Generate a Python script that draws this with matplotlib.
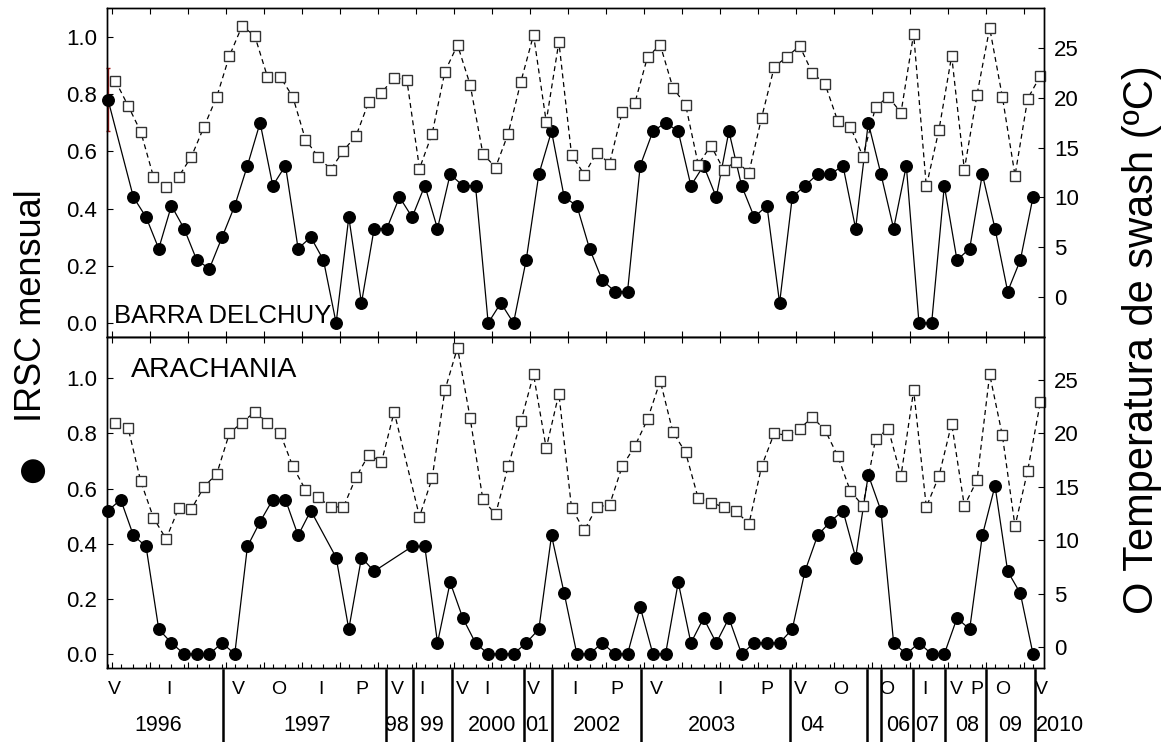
import numpy as np
import matplotlib.pyplot as plt
from matplotlib import transforms
from matplotlib.ticker import FormatStrFormatter, MultipleLocator

plt.rcParams['font.family'] = ['Liberation Sans', 'DejaVu Sans']

nan = np.nan

# --- data: one value per sampling campaign (x axis = campaign number) ---
barra_irsc = [0.78, nan, 0.44, 0.37, 0.26, 0.41, 0.33, 0.22, 0.19, 0.30,
              0.41, 0.55, 0.70, 0.48, 0.55, 0.26, 0.30, 0.22, 0.00, 0.37,
              0.07, 0.33, 0.33, 0.44, 0.37, 0.48, 0.33, 0.52, 0.48, 0.48,
              0.00, 0.07, 0.00, 0.22, 0.52, 0.67, 0.44, 0.41, 0.26, 0.15,
              0.11, 0.11, 0.55, 0.67, 0.70, 0.67, 0.48, 0.55, 0.44, 0.67,
              0.48, 0.37, 0.41, 0.07, 0.44, 0.48, 0.52, 0.52, 0.55, 0.33,
              0.70, 0.52, 0.33, 0.55, 0.00, 0.00, 0.48, 0.22, 0.26, 0.52,
              0.33, 0.11, 0.22, 0.44]
barra_err = 0.11   # error bar on the first campaign

barra_temp = [21.7, 19.2, 16.6, 12.1, 11.0, 12.1, 14.1, 17.1, 20.1, 24.2,
              27.2, 26.2, 22.1, 22.1, 20.1, 15.8, 14.1, 12.8, 14.7, 16.2,
              19.6, 20.5, 22.0, 21.8, 12.9, 16.4, 22.6, 25.3, 21.3, 14.4,
              13.0, 16.4, 21.6, 26.3, 17.6, 25.6, 14.3, 12.3, 14.5, 13.4,
              18.6, 19.5, 24.1, 25.3, 21.0, 19.3, 13.3, 15.2, 12.8, 13.6,
              12.5, 18.0, 23.1, 24.1, 25.2, 22.5, 21.4, 17.7, 17.1, 14.1,
              19.1, 20.1, 18.5, 26.4, 11.1, 16.8, 24.2, 12.8, 20.3, 27.0,
              20.1, 12.2, 19.9, 22.2]

arach_irsc = [0.52, 0.56, 0.43, 0.39, 0.09, 0.04, 0.00, 0.00, 0.00, 0.04,
              0.00, 0.39, 0.48, 0.56, 0.56, 0.43, 0.52, nan, 0.35, 0.09,
              0.35, 0.30, nan, nan, 0.39, 0.39, 0.04, 0.26, 0.13, 0.04,
              0.00, 0.00, 0.00, 0.04, 0.09, 0.43, 0.22, 0.00, 0.00, 0.04,
              0.00, 0.00, 0.17, 0.00, 0.00, 0.26, 0.04, 0.13, 0.04, 0.13,
              0.00, 0.04, 0.04, 0.04, 0.09, 0.30, 0.43, 0.48, 0.52, 0.35,
              0.65, 0.52, 0.04, 0.00, 0.04, 0.00, 0.00, 0.13, 0.09, 0.43,
              0.61, 0.30, 0.22, 0.00]

arach_temp = [21.0, 20.5, 15.5, 12.1, 10.1, 13.0, 12.9, 15.0, 16.2, 20.0,
              21.0, 22.0, 21.0, 20.0, 16.9, 14.7, 14.0, 13.1, 13.1, 15.9,
              18.0, 17.3, 22.0, nan, 12.2, 15.8, 24.0, 28.0, 21.4, 13.8,
              12.4, 16.9, 21.1, 25.5, 18.6, 23.7, 13.0, 10.9, 13.1, 13.3,
              16.9, 18.8, 21.3, 24.9, 20.1, 18.2, 13.9, 13.5, 13.1, 12.7,
              11.5, 16.9, 20.0, 19.8, 20.4, 21.5, 20.3, 17.9, 14.6, 13.2,
              19.5, 20.4, 16.0, 24.0, 13.1, 16.0, 20.9, 13.2, 15.6, 25.5,
              19.8, 11.3, 16.5, 22.9]

# season letters and years written under the x axis
season_labels = ['V', 'I', 'V', 'O', 'I', 'P', 'V', 'I', 'V', 'I', 'V', 'I',
                 'P', 'V', 'I', 'P', 'V', 'O', 'O', 'I', 'V', 'P', 'O', 'V']
season_pos = [0.47, 4.81, 10.26, 13.5, 16.81, 20.05, 22.81, 24.78, 27.94, 29.91,
              33.54, 36.86, 40.18, 43.25, 48.3, 52.01, 54.62, 57.85, 61.48,
              64.48, 66.93, 68.59, 70.64, 73.64]
year_labels = ['1996', '1997', '98', '99', '2000', '01', '2002', '2003', '04',
               '06', '07', '08', '09', '2010']
year_pos = [3.95, 15.71, 22.81, 25.57, 30.31, 33.86, 38.59, 47.67, 55.56,
            62.35, 64.64, 67.8, 71.19, 75.14]
year_breaks = [9.08, 21.94, 24.07, 27.15, 32.83, 35.04, 42.07, 53.83, 59.91,
               61.01, 63.54, 66.06, 69.3, 73.16]

n_camp = len(barra_irsc)
idx = np.arange(n_camp)
temp_shift = 0.58   # temperature measured half a step later

fig = plt.figure(figsize=(11.66, 7.42), dpi=100)
ax1 = fig.add_axes([0.0918, 0.5458, 0.8036, 0.4434])
ax2 = fig.add_axes([0.0918, 0.0997, 0.8036, 0.4461], sharex=ax1)


def draw_panel(ax, irsc, temp, ylim_l, ylim_r):
    irsc = np.asarray(irsc, float)
    temp = np.asarray(temp, float)
    m = ~np.isnan(irsc)
    ax.plot(idx[m], irsc[m], '-o', color='black', lw=0.9, ms=8.3,
            clip_on=False, zorder=3)
    ax.set_ylim(*ylim_l)
    ax.set_yticks(np.arange(0, 1.01, 0.2))
    ax.yaxis.set_major_formatter(FormatStrFormatter('%.1f'))

    axr = ax.twinx()
    mt = ~np.isnan(temp)
    axr.plot(idx[mt] + temp_shift, temp[mt], color='black', ls=(0, (4, 3)),
             lw=0.9, marker='s', ms=7.6, mfc='white', mec='#333333', mew=1.0,
             clip_on=False)
    axr.set_ylim(*ylim_r)
    axr.set_yticks([0, 5, 10, 15, 20, 25])

    for a in (ax, axr):
        for sp in a.spines.values():
            sp.set_linewidth(1.0)
        a.tick_params(direction='in', length=4, width=0.8, labelsize=16, pad=7)
        a.tick_params(axis='x', top=True, bottom=True, labelbottom=False)
    ax.tick_params(axis='y', right=False)
    axr.tick_params(axis='y', left=False)
    return axr


ax1r = draw_panel(ax1, barra_irsc, barra_temp, (-0.049, 1.101), (-4.0, 29.0))
ax2r = draw_panel(ax2, arach_irsc, arach_temp, (-0.051, 1.15), (-1.97, 29.0))

ax1.errorbar(idx[0], barra_irsc[0], yerr=barra_err, fmt='none',
             ecolor='#a01818', elinewidth=1.0, capsize=1.5, clip_on=False)

ax1.set_xlim(-0.08, 73.87)
ax1.set_xticks(np.arange(0.3, 74, 3))
ax2.xaxis.set_minor_locator(MultipleLocator(1))
ax2.tick_params(axis='x', which='minor', direction='in', length=3, width=0.8,
                top=False, bottom=True)

ax1.text(0.0075, 0.0435, 'BARRA DELCHUY', transform=ax1.transAxes,
         fontsize=18.5, va='baseline', ha='left')
ax2.text(0.0253, 0.880, 'ARACHANIA', transform=ax2.transAxes,
         fontsize=20.5, va='baseline', ha='left')

# season / year rows under the axis
trans = transforms.blended_transform_factory(ax2.transData, fig.transFigure)
for lab, x in zip(season_labels, season_pos):
    fig.text(x, 0.0701, lab, transform=trans, ha='center', va='center', fontsize=14)
for lab, x in zip(year_labels, year_pos):
    fig.text(x, 0.0229, lab, transform=trans, ha='center', va='center', fontsize=15.5)
for x in year_breaks:
    fig.add_artist(plt.Line2D([x, x], [0.097, 0.0], transform=trans,
                              color='black', lw=1.8))

# axis titles
fig.text(0.0352, 0.5876, 'IRSC mensual', rotation=90, rotation_mode='anchor',
         ha='center', va='baseline', fontsize=26)
fig.text(0.0265, 0.372, '\u25cf', rotation=90, ha='center', va='center',
         fontsize=40)
fig.text(0.989, 0.5418, 'O Temperatura de swash (\u00baC)', rotation=90,
         rotation_mode='anchor', ha='center', va='baseline', fontsize=30)

fig.savefig('out.png', dpi=100)
